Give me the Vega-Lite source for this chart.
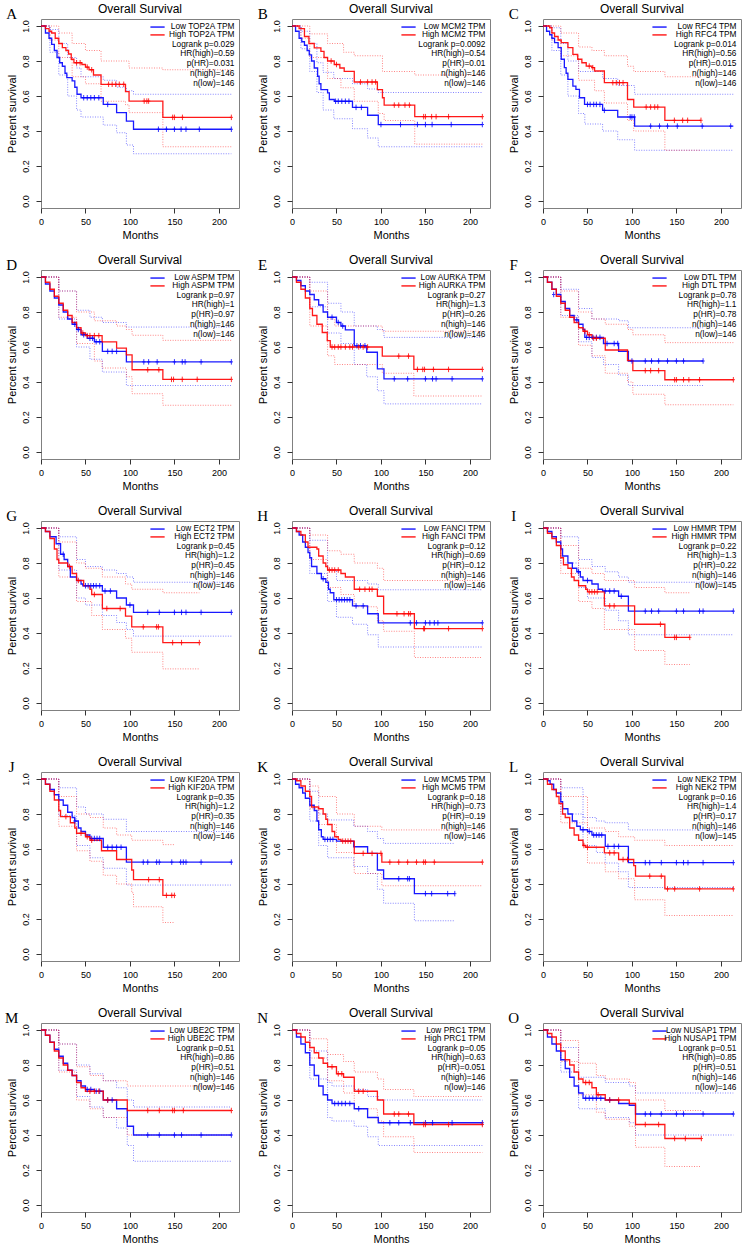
{
"$schema":"https://vega.github.io/schema/vega-lite/v6.json",
"padding":{"left":4,"top":2,"right":0,"bottom":0},
"data":{"values":[
{"p":"A","g":"TL","lab":"Low TOP2A TPM"},{"p":"A","g":"TH","lab":"High TOP2A TPM"},{"p":"A","g":"S","lab":["Logrank p=0.029","HR(high)=0.59","p(HR)=0.031","n(high)=146","n(low)=146"]},
{"p":"B","g":"TL","lab":"Low MCM2 TPM"},{"p":"B","g":"TH","lab":"High MCM2 TPM"},{"p":"B","g":"S","lab":["Logrank p=0.0092","HR(high)=0.54","p(HR)=0.01","n(high)=146","n(low)=146"]},
{"p":"C","g":"TL","lab":"Low RFC4 TPM"},{"p":"C","g":"TH","lab":"High RFC4 TPM"},{"p":"C","g":"S","lab":["Logrank p=0.014","HR(high)=0.56","p(HR)=0.015","n(high)=146","n(low)=146"]},
{"p":"D","g":"TL","lab":"Low ASPM TPM"},{"p":"D","g":"TH","lab":"High ASPM TPM"},{"p":"D","g":"S","lab":["Logrank p=0.97","HR(high)=1","p(HR)=0.97","n(high)=146","n(low)=146"]},
{"p":"E","g":"TL","lab":"Low AURKA TPM"},{"p":"E","g":"TH","lab":"High AURKA TPM"},{"p":"E","g":"S","lab":["Logrank p=0.27","HR(high)=1.3","p(HR)=0.26","n(high)=146","n(low)=146"]},
{"p":"F","g":"TL","lab":"Low DTL TPM"},{"p":"F","g":"TH","lab":"High DTL TPM"},{"p":"F","g":"S","lab":["Logrank p=0.78","HR(high)=1.1","p(HR)=0.78","n(high)=146","n(low)=146"]},
{"p":"G","g":"TL","lab":"Low ECT2 TPM"},{"p":"G","g":"TH","lab":"High ECT2 TPM"},{"p":"G","g":"S","lab":["Logrank p=0.45","HR(high)=1.2","p(HR)=0.45","n(high)=146","n(low)=146"]},
{"p":"H","g":"TL","lab":"Low FANCI TPM"},{"p":"H","g":"TH","lab":"High FANCI TPM"},{"p":"H","g":"S","lab":["Logrank p=0.12","HR(high)=0.69","p(HR)=0.12","n(high)=146","n(low)=146"]},
{"p":"I","g":"TL","lab":"Low HMMR TPM"},{"p":"I","g":"TH","lab":"High HMMR TPM"},{"p":"I","g":"S","lab":["Logrank p=0.22","HR(high)=1.3","p(HR)=0.22","n(high)=146","n(low)=145"]},
{"p":"J","g":"TL","lab":"Low KIF20A TPM"},{"p":"J","g":"TH","lab":"High KIF20A TPM"},{"p":"J","g":"S","lab":["Logrank p=0.35","HR(high)=1.2","p(HR)=0.35","n(high)=146","n(low)=146"]},
{"p":"K","g":"TL","lab":"Low MCM5 TPM"},{"p":"K","g":"TH","lab":"High MCM5 TPM"},{"p":"K","g":"S","lab":["Logrank p=0.18","HR(high)=0.73","p(HR)=0.19","n(high)=146","n(low)=146"]},
{"p":"L","g":"TL","lab":"Low NEK2 TPM"},{"p":"L","g":"TH","lab":"High NEK2 TPM"},{"p":"L","g":"S","lab":["Logrank p=0.16","HR(high)=1.4","p(HR)=0.17","n(high)=146","n(low)=145"]},
{"p":"M","g":"TL","lab":"Low UBE2C TPM"},{"p":"M","g":"TH","lab":"High UBE2C TPM"},{"p":"M","g":"S","lab":["Logrank p=0.51","HR(high)=0.86","p(HR)=0.51","n(high)=146","n(low)=146"]},
{"p":"N","g":"TL","lab":"Low PRC1 TPM"},{"p":"N","g":"TH","lab":"High PRC1 TPM"},{"p":"N","g":"S","lab":["Logrank p=0.05","HR(high)=0.63","p(HR)=0.051","n(high)=146","n(low)=146"]},
{"p":"O","g":"TL","lab":"Low NUSAP1 TPM"},{"p":"O","g":"TH","lab":"High NUSAP1 TPM"},{"p":"O","g":"S","lab":["Logrank p=0.51","HR(high)=0.85","p(HR)=0.51","n(high)=146","n(low)=146"]},

{"p":"A","g":"L","t":0,"s":1},{"p":"A","g":"L","t":5,"s":0.96},{"p":"A","g":"L","t":9,"s":0.93},{"p":"A","g":"L","t":12,"s":0.895},{"p":"A","g":"L","t":15,"s":0.86},{"p":"A","g":"L","t":18,"s":0.82},{"p":"A","g":"L","t":21,"s":0.79},{"p":"A","g":"L","t":24,"s":0.77},{"p":"A","g":"L","t":27,"s":0.73},{"p":"A","g":"L","t":29,"s":0.705},{"p":"A","g":"L","t":35,"s":0.686},{"p":"A","g":"L","t":38,"s":0.65},{"p":"A","g":"L","t":40.5,"s":0.61},{"p":"A","g":"L","t":45,"s":0.59},{"p":"A","g":"L","t":70,"s":0.552},{"p":"A","g":"L","t":85,"s":0.505},{"p":"A","g":"L","t":96,"s":0.457},{"p":"A","g":"L","t":104,"s":0.41},{"p":"A","g":"L","t":214,"s":0.41},
{"p":"A","g":"H","t":0,"s":1},{"p":"A","g":"H","t":5,"s":0.985},{"p":"A","g":"H","t":9,"s":0.97},{"p":"A","g":"H","t":12,"s":0.96},{"p":"A","g":"H","t":16,"s":0.93},{"p":"A","g":"H","t":20,"s":0.9},{"p":"A","g":"H","t":24,"s":0.876},{"p":"A","g":"H","t":28,"s":0.86},{"p":"A","g":"H","t":31,"s":0.84},{"p":"A","g":"H","t":34,"s":0.81},{"p":"A","g":"H","t":37,"s":0.79},{"p":"A","g":"H","t":46,"s":0.78},{"p":"A","g":"H","t":50,"s":0.765},{"p":"A","g":"H","t":54,"s":0.75},{"p":"A","g":"H","t":59,"s":0.72},{"p":"A","g":"H","t":67.5,"s":0.667},{"p":"A","g":"H","t":95,"s":0.625},{"p":"A","g":"H","t":99,"s":0.571},{"p":"A","g":"H","t":137,"s":0.478},{"p":"A","g":"H","t":214,"s":0.478},
{"p":"A","g":"Lu","t":0,"s":1},{"p":"A","g":"Lu","t":10,"s":0.98},{"p":"A","g":"Lu","t":20,"s":0.9},{"p":"A","g":"Lu","t":30,"s":0.82},{"p":"A","g":"Lu","t":40,"s":0.76},{"p":"A","g":"Lu","t":45,"s":0.71},{"p":"A","g":"Lu","t":70,"s":0.69},{"p":"A","g":"Lu","t":85,"s":0.65},{"p":"A","g":"Lu","t":96,"s":0.63},{"p":"A","g":"Lu","t":104,"s":0.61},{"p":"A","g":"Lu","t":214,"s":0.61},
{"p":"A","g":"Ll","t":0,"s":1},{"p":"A","g":"Ll","t":10,"s":0.85},{"p":"A","g":"Ll","t":20,"s":0.72},{"p":"A","g":"Ll","t":30,"s":0.6},{"p":"A","g":"Ll","t":40,"s":0.52},{"p":"A","g":"Ll","t":45,"s":0.48},{"p":"A","g":"Ll","t":70,"s":0.434},{"p":"A","g":"Ll","t":85,"s":0.39},{"p":"A","g":"Ll","t":96,"s":0.32},{"p":"A","g":"Ll","t":104,"s":0.27},{"p":"A","g":"Ll","t":214,"s":0.27},
{"p":"A","g":"Hu","t":0,"s":1},{"p":"A","g":"Hu","t":20,"s":0.96},{"p":"A","g":"Hu","t":35,"s":0.9},{"p":"A","g":"Hu","t":50,"s":0.86},{"p":"A","g":"Hu","t":67.5,"s":0.8},{"p":"A","g":"Hu","t":99,"s":0.76},{"p":"A","g":"Hu","t":137,"s":0.75},{"p":"A","g":"Hu","t":214,"s":0.75},
{"p":"A","g":"Hl","t":0,"s":1},{"p":"A","g":"Hl","t":10,"s":0.92},{"p":"A","g":"Hl","t":20,"s":0.82},{"p":"A","g":"Hl","t":35,"s":0.71},{"p":"A","g":"Hl","t":50,"s":0.67},{"p":"A","g":"Hl","t":67.5,"s":0.57},{"p":"A","g":"Hl","t":95,"s":0.55},{"p":"A","g":"Hl","t":99,"s":0.505},{"p":"A","g":"Hl","t":137,"s":0.31},{"p":"A","g":"Hl","t":214,"s":0.31},
{"p":"A","g":"Lc","t":48,"s":0.59},{"p":"A","g":"Lc","t":52,"s":0.59},{"p":"A","g":"Lc","t":56,"s":0.59},{"p":"A","g":"Lc","t":60,"s":0.59},{"p":"A","g":"Lc","t":65,"s":0.59},{"p":"A","g":"Lc","t":75,"s":0.552},{"p":"A","g":"Lc","t":132,"s":0.41},{"p":"A","g":"Lc","t":141,"s":0.41},{"p":"A","g":"Lc","t":150,"s":0.41},{"p":"A","g":"Lc","t":157.5,"s":0.41},{"p":"A","g":"Lc","t":163,"s":0.41},{"p":"A","g":"Lc","t":178,"s":0.41},{"p":"A","g":"Lc","t":214,"s":0.41},
{"p":"A","g":"Hc","t":40,"s":0.79},{"p":"A","g":"Hc","t":44,"s":0.79},{"p":"A","g":"Hc","t":52,"s":0.765},{"p":"A","g":"Hc","t":57,"s":0.75},{"p":"A","g":"Hc","t":76,"s":0.667},{"p":"A","g":"Hc","t":80,"s":0.667},{"p":"A","g":"Hc","t":84,"s":0.667},{"p":"A","g":"Hc","t":88,"s":0.667},{"p":"A","g":"Hc","t":93,"s":0.667},{"p":"A","g":"Hc","t":116,"s":0.571},{"p":"A","g":"Hc","t":119,"s":0.571},{"p":"A","g":"Hc","t":121,"s":0.571},{"p":"A","g":"Hc","t":148,"s":0.478},{"p":"A","g":"Hc","t":150,"s":0.478},{"p":"A","g":"Hc","t":159,"s":0.478},{"p":"A","g":"Hc","t":214,"s":0.478},

{"p":"B","g":"L","t":0,"s":1},{"p":"B","g":"L","t":4,"s":0.97},{"p":"B","g":"L","t":8,"s":0.93},{"p":"B","g":"L","t":11,"s":0.91},{"p":"B","g":"L","t":14,"s":0.89},{"p":"B","g":"L","t":17,"s":0.86},{"p":"B","g":"L","t":19.4,"s":0.835},{"p":"B","g":"L","t":22,"s":0.8},{"p":"B","g":"L","t":25,"s":0.76},{"p":"B","g":"L","t":28.8,"s":0.713},{"p":"B","g":"L","t":30.5,"s":0.67},{"p":"B","g":"L","t":32.5,"s":0.637},{"p":"B","g":"L","t":40,"s":0.618},{"p":"B","g":"L","t":42,"s":0.58},{"p":"B","g":"L","t":47.5,"s":0.57},{"p":"B","g":"L","t":68,"s":0.535},{"p":"B","g":"L","t":85,"s":0.49},{"p":"B","g":"L","t":97,"s":0.437},{"p":"B","g":"L","t":214,"s":0.437},
{"p":"B","g":"H","t":0,"s":1},{"p":"B","g":"H","t":8,"s":0.985},{"p":"B","g":"H","t":14,"s":0.94},{"p":"B","g":"H","t":19,"s":0.9},{"p":"B","g":"H","t":25,"s":0.875},{"p":"B","g":"H","t":32.5,"s":0.855},{"p":"B","g":"H","t":36,"s":0.82},{"p":"B","g":"H","t":40,"s":0.8},{"p":"B","g":"H","t":47.5,"s":0.78},{"p":"B","g":"H","t":53.8,"s":0.76},{"p":"B","g":"H","t":58.7,"s":0.741},{"p":"B","g":"H","t":70,"s":0.68},{"p":"B","g":"H","t":96,"s":0.637},{"p":"B","g":"H","t":101.7,"s":0.59},{"p":"B","g":"H","t":103.6,"s":0.548},{"p":"B","g":"H","t":138,"s":0.482},{"p":"B","g":"H","t":214,"s":0.482},
{"p":"B","g":"Lu","t":0,"s":1},{"p":"B","g":"Lu","t":10,"s":0.97},{"p":"B","g":"Lu","t":20,"s":0.9},{"p":"B","g":"Lu","t":28,"s":0.79},{"p":"B","g":"Lu","t":35,"s":0.735},{"p":"B","g":"Lu","t":47,"s":0.7},{"p":"B","g":"Lu","t":68,"s":0.67},{"p":"B","g":"Lu","t":85,"s":0.64},{"p":"B","g":"Lu","t":97,"s":0.62},{"p":"B","g":"Lu","t":214,"s":0.62},
{"p":"B","g":"Ll","t":0,"s":1},{"p":"B","g":"Ll","t":10,"s":0.87},{"p":"B","g":"Ll","t":20,"s":0.74},{"p":"B","g":"Ll","t":28,"s":0.62},{"p":"B","g":"Ll","t":35,"s":0.52},{"p":"B","g":"Ll","t":47,"s":0.47},{"p":"B","g":"Ll","t":68,"s":0.413},{"p":"B","g":"Ll","t":85,"s":0.36},{"p":"B","g":"Ll","t":97,"s":0.31},{"p":"B","g":"Ll","t":214,"s":0.31},
{"p":"B","g":"Hu","t":0,"s":1},{"p":"B","g":"Hu","t":20,"s":0.955},{"p":"B","g":"Hu","t":40,"s":0.9},{"p":"B","g":"Hu","t":58,"s":0.85},{"p":"B","g":"Hu","t":70,"s":0.83},{"p":"B","g":"Hu","t":101.7,"s":0.74},{"p":"B","g":"Hu","t":138,"s":0.72},{"p":"B","g":"Hu","t":214,"s":0.72},
{"p":"B","g":"Hl","t":0,"s":1},{"p":"B","g":"Hl","t":10,"s":0.93},{"p":"B","g":"Hl","t":20,"s":0.82},{"p":"B","g":"Hl","t":40,"s":0.7},{"p":"B","g":"Hl","t":55,"s":0.647},{"p":"B","g":"Hl","t":70,"s":0.57},{"p":"B","g":"Hl","t":97,"s":0.5},{"p":"B","g":"Hl","t":103.6,"s":0.46},{"p":"B","g":"Hl","t":138,"s":0.325},{"p":"B","g":"Hl","t":214,"s":0.325},
{"p":"B","g":"Lc","t":49,"s":0.57},{"p":"B","g":"Lc","t":52,"s":0.57},{"p":"B","g":"Lc","t":56,"s":0.57},{"p":"B","g":"Lc","t":60,"s":0.57},{"p":"B","g":"Lc","t":64,"s":0.57},{"p":"B","g":"Lc","t":72,"s":0.535},{"p":"B","g":"Lc","t":78,"s":0.535},{"p":"B","g":"Lc","t":100,"s":0.437},{"p":"B","g":"Lc","t":122,"s":0.437},{"p":"B","g":"Lc","t":141,"s":0.437},{"p":"B","g":"Lc","t":150,"s":0.437},{"p":"B","g":"Lc","t":157.5,"s":0.437},{"p":"B","g":"Lc","t":179,"s":0.437},{"p":"B","g":"Lc","t":214,"s":0.437},
{"p":"B","g":"Hc","t":44,"s":0.8},{"p":"B","g":"Hc","t":50,"s":0.78},{"p":"B","g":"Hc","t":77,"s":0.68},{"p":"B","g":"Hc","t":85,"s":0.68},{"p":"B","g":"Hc","t":90,"s":0.68},{"p":"B","g":"Hc","t":94,"s":0.68},{"p":"B","g":"Hc","t":115,"s":0.548},{"p":"B","g":"Hc","t":120,"s":0.548},{"p":"B","g":"Hc","t":127,"s":0.548},{"p":"B","g":"Hc","t":132,"s":0.548},{"p":"B","g":"Hc","t":148,"s":0.482},{"p":"B","g":"Hc","t":150,"s":0.482},{"p":"B","g":"Hc","t":157,"s":0.482},{"p":"B","g":"Hc","t":162,"s":0.482},{"p":"B","g":"Hc","t":176,"s":0.482},{"p":"B","g":"Hc","t":214,"s":0.482},

{"p":"C","g":"L","t":0,"s":1},{"p":"C","g":"L","t":4,"s":0.97},{"p":"C","g":"L","t":7.5,"s":0.95},{"p":"C","g":"L","t":10,"s":0.93},{"p":"C","g":"L","t":13,"s":0.905},{"p":"C","g":"L","t":17,"s":0.876},{"p":"C","g":"L","t":20.5,"s":0.81},{"p":"C","g":"L","t":24,"s":0.762},{"p":"C","g":"L","t":26,"s":0.73},{"p":"C","g":"L","t":28,"s":0.695},{"p":"C","g":"L","t":33.6,"s":0.657},{"p":"C","g":"L","t":37,"s":0.638},{"p":"C","g":"L","t":41,"s":0.59},{"p":"C","g":"L","t":46.7,"s":0.552},{"p":"C","g":"L","t":67,"s":0.518},{"p":"C","g":"L","t":84,"s":0.48},{"p":"C","g":"L","t":103,"s":0.428},{"p":"C","g":"L","t":214,"s":0.428},
{"p":"C","g":"H","t":0,"s":1},{"p":"C","g":"H","t":7.5,"s":0.99},{"p":"C","g":"H","t":10,"s":0.96},{"p":"C","g":"H","t":13,"s":0.94},{"p":"C","g":"H","t":17,"s":0.92},{"p":"C","g":"H","t":20.5,"s":0.905},{"p":"C","g":"H","t":28,"s":0.876},{"p":"C","g":"H","t":33.6,"s":0.838},{"p":"C","g":"H","t":39,"s":0.81},{"p":"C","g":"H","t":43.7,"s":0.79},{"p":"C","g":"H","t":48.6,"s":0.771},{"p":"C","g":"H","t":55,"s":0.762},{"p":"C","g":"H","t":58,"s":0.743},{"p":"C","g":"H","t":69,"s":0.676},{"p":"C","g":"H","t":95,"s":0.58},{"p":"C","g":"H","t":102,"s":0.537},{"p":"C","g":"H","t":137,"s":0.461},{"p":"C","g":"H","t":177.6,"s":0.461},
{"p":"C","g":"Lu","t":0,"s":1},{"p":"C","g":"Lu","t":10,"s":0.99},{"p":"C","g":"Lu","t":20,"s":0.9},{"p":"C","g":"Lu","t":28,"s":0.8},{"p":"C","g":"Lu","t":40,"s":0.74},{"p":"C","g":"Lu","t":67,"s":0.7},{"p":"C","g":"Lu","t":84,"s":0.66},{"p":"C","g":"Lu","t":103,"s":0.61},{"p":"C","g":"Lu","t":214,"s":0.61},
{"p":"C","g":"Ll","t":0,"s":1},{"p":"C","g":"Ll","t":10,"s":0.86},{"p":"C","g":"Ll","t":20,"s":0.72},{"p":"C","g":"Ll","t":28,"s":0.6},{"p":"C","g":"Ll","t":40,"s":0.5},{"p":"C","g":"Ll","t":47,"s":0.44},{"p":"C","g":"Ll","t":67,"s":0.4},{"p":"C","g":"Ll","t":84,"s":0.35},{"p":"C","g":"Ll","t":103,"s":0.29},{"p":"C","g":"Ll","t":214,"s":0.29},
{"p":"C","g":"Hu","t":0,"s":1},{"p":"C","g":"Hu","t":20,"s":0.96},{"p":"C","g":"Hu","t":40,"s":0.88},{"p":"C","g":"Hu","t":55,"s":0.86},{"p":"C","g":"Hu","t":69,"s":0.83},{"p":"C","g":"Hu","t":95,"s":0.77},{"p":"C","g":"Hu","t":102,"s":0.74},{"p":"C","g":"Hu","t":137,"s":0.71},{"p":"C","g":"Hu","t":177.6,"s":0.71},
{"p":"C","g":"Hl","t":0,"s":1},{"p":"C","g":"Hl","t":10,"s":0.92},{"p":"C","g":"Hl","t":20,"s":0.83},{"p":"C","g":"Hl","t":40,"s":0.69},{"p":"C","g":"Hl","t":58,"s":0.63},{"p":"C","g":"Hl","t":69,"s":0.56},{"p":"C","g":"Hl","t":95,"s":0.46},{"p":"C","g":"Hl","t":102,"s":0.4},{"p":"C","g":"Hl","t":137,"s":0.29},{"p":"C","g":"Hl","t":177.6,"s":0.29},
{"p":"C","g":"Lc","t":50,"s":0.552},{"p":"C","g":"Lc","t":53,"s":0.552},{"p":"C","g":"Lc","t":57,"s":0.552},{"p":"C","g":"Lc","t":60,"s":0.552},{"p":"C","g":"Lc","t":64,"s":0.552},{"p":"C","g":"Lc","t":69,"s":0.518},{"p":"C","g":"Lc","t":98,"s":0.48},{"p":"C","g":"Lc","t":100,"s":0.48},{"p":"C","g":"Lc","t":102.6,"s":0.48},{"p":"C","g":"Lc","t":121,"s":0.428},{"p":"C","g":"Lc","t":131,"s":0.428},{"p":"C","g":"Lc","t":140,"s":0.428},{"p":"C","g":"Lc","t":151,"s":0.428},{"p":"C","g":"Lc","t":179,"s":0.428},{"p":"C","g":"Lc","t":211,"s":0.428},
{"p":"C","g":"Hc","t":52,"s":0.771},{"p":"C","g":"Hc","t":56,"s":0.762},{"p":"C","g":"Hc","t":78.5,"s":0.676},{"p":"C","g":"Hc","t":82.4,"s":0.676},{"p":"C","g":"Hc","t":86,"s":0.676},{"p":"C","g":"Hc","t":90,"s":0.676},{"p":"C","g":"Hc","t":116,"s":0.537},{"p":"C","g":"Hc","t":121,"s":0.537},{"p":"C","g":"Hc","t":125.6,"s":0.537},{"p":"C","g":"Hc","t":129,"s":0.537},{"p":"C","g":"Hc","t":147.7,"s":0.461},{"p":"C","g":"Hc","t":157,"s":0.461},{"p":"C","g":"Hc","t":162.6,"s":0.461},{"p":"C","g":"Hc","t":177.6,"s":0.461},

{"p":"D","g":"L","t":0,"s":1},{"p":"D","g":"L","t":5,"s":0.96},{"p":"D","g":"L","t":10,"s":0.92},{"p":"D","g":"L","t":15,"s":0.88},{"p":"D","g":"L","t":20,"s":0.84},{"p":"D","g":"L","t":25,"s":0.8},{"p":"D","g":"L","t":30,"s":0.76},{"p":"D","g":"L","t":35,"s":0.73},{"p":"D","g":"L","t":40,"s":0.7},{"p":"D","g":"L","t":45,"s":0.67},{"p":"D","g":"L","t":52,"s":0.65},{"p":"D","g":"L","t":60,"s":0.63},{"p":"D","g":"L","t":69,"s":0.575},{"p":"D","g":"L","t":96,"s":0.515},{"p":"D","g":"L","t":214,"s":0.515},
{"p":"D","g":"H","t":0,"s":1},{"p":"D","g":"H","t":5,"s":0.97},{"p":"D","g":"H","t":10,"s":0.93},{"p":"D","g":"H","t":15,"s":0.89},{"p":"D","g":"H","t":20,"s":0.85},{"p":"D","g":"H","t":25,"s":0.81},{"p":"D","g":"H","t":30,"s":0.78},{"p":"D","g":"H","t":35,"s":0.74},{"p":"D","g":"H","t":40,"s":0.71},{"p":"D","g":"H","t":45,"s":0.68},{"p":"D","g":"H","t":50,"s":0.665},{"p":"D","g":"H","t":68.7,"s":0.629},{"p":"D","g":"H","t":85,"s":0.594},{"p":"D","g":"H","t":96,"s":0.555},{"p":"D","g":"H","t":102.4,"s":0.47},{"p":"D","g":"H","t":137,"s":0.415},{"p":"D","g":"H","t":214,"s":0.415},
{"p":"D","g":"Lu","t":0,"s":1},{"p":"D","g":"Lu","t":20,"s":0.92},{"p":"D","g":"Lu","t":40,"s":0.81},{"p":"D","g":"Lu","t":55,"s":0.77},{"p":"D","g":"Lu","t":69,"s":0.74},{"p":"D","g":"Lu","t":96,"s":0.714},{"p":"D","g":"Lu","t":214,"s":0.714},
{"p":"D","g":"Ll","t":0,"s":1},{"p":"D","g":"Ll","t":20,"s":0.76},{"p":"D","g":"Ll","t":40,"s":0.6},{"p":"D","g":"Ll","t":55,"s":0.53},{"p":"D","g":"Ll","t":69,"s":0.457},{"p":"D","g":"Ll","t":96,"s":0.38},{"p":"D","g":"Ll","t":214,"s":0.38},
{"p":"D","g":"Hu","t":0,"s":1},{"p":"D","g":"Hu","t":20,"s":0.92},{"p":"D","g":"Hu","t":40,"s":0.8},{"p":"D","g":"Hu","t":60,"s":0.75},{"p":"D","g":"Hu","t":85,"s":0.72},{"p":"D","g":"Hu","t":96,"s":0.7},{"p":"D","g":"Hu","t":102.4,"s":0.667},{"p":"D","g":"Hu","t":137,"s":0.638},{"p":"D","g":"Hu","t":214,"s":0.638},
{"p":"D","g":"Hl","t":0,"s":1},{"p":"D","g":"Hl","t":20,"s":0.77},{"p":"D","g":"Hl","t":40,"s":0.62},{"p":"D","g":"Hl","t":60,"s":0.52},{"p":"D","g":"Hl","t":68.7,"s":0.48},{"p":"D","g":"Hl","t":96,"s":0.43},{"p":"D","g":"Hl","t":102.4,"s":0.333},{"p":"D","g":"Hl","t":137,"s":0.267},{"p":"D","g":"Hl","t":214,"s":0.267},
{"p":"D","g":"Lc","t":38,"s":0.73},{"p":"D","g":"Lc","t":42,"s":0.7},{"p":"D","g":"Lc","t":48,"s":0.67},{"p":"D","g":"Lc","t":55,"s":0.65},{"p":"D","g":"Lc","t":58,"s":0.65},{"p":"D","g":"Lc","t":62,"s":0.63},{"p":"D","g":"Lc","t":66,"s":0.63},{"p":"D","g":"Lc","t":75,"s":0.575},{"p":"D","g":"Lc","t":80,"s":0.575},{"p":"D","g":"Lc","t":85,"s":0.575},{"p":"D","g":"Lc","t":115.6,"s":0.515},{"p":"D","g":"Lc","t":121,"s":0.515},{"p":"D","g":"Lc","t":130.6,"s":0.515},{"p":"D","g":"Lc","t":150,"s":0.515},{"p":"D","g":"Lc","t":158.8,"s":0.515},{"p":"D","g":"Lc","t":162,"s":0.515},{"p":"D","g":"Lc","t":180,"s":0.515},{"p":"D","g":"Lc","t":214,"s":0.515},
{"p":"D","g":"Hc","t":47,"s":0.68},{"p":"D","g":"Hc","t":52,"s":0.665},{"p":"D","g":"Hc","t":55,"s":0.665},{"p":"D","g":"Hc","t":60,"s":0.665},{"p":"D","g":"Hc","t":65,"s":0.665},{"p":"D","g":"Hc","t":120,"s":0.47},{"p":"D","g":"Hc","t":132.5,"s":0.47},{"p":"D","g":"Hc","t":146.7,"s":0.415},{"p":"D","g":"Hc","t":149,"s":0.415},{"p":"D","g":"Hc","t":158.8,"s":0.415},{"p":"D","g":"Hc","t":175.6,"s":0.415},{"p":"D","g":"Hc","t":214,"s":0.415},

{"p":"E","g":"L","t":0,"s":1},{"p":"E","g":"L","t":5,"s":0.98},{"p":"E","g":"L","t":10,"s":0.95},{"p":"E","g":"L","t":15,"s":0.92},{"p":"E","g":"L","t":20,"s":0.9},{"p":"E","g":"L","t":25,"s":0.87},{"p":"E","g":"L","t":30,"s":0.84},{"p":"E","g":"L","t":35,"s":0.8},{"p":"E","g":"L","t":40,"s":0.77},{"p":"E","g":"L","t":50,"s":0.74},{"p":"E","g":"L","t":55,"s":0.72},{"p":"E","g":"L","t":60,"s":0.698},{"p":"E","g":"L","t":70,"s":0.607},{"p":"E","g":"L","t":84,"s":0.57},{"p":"E","g":"L","t":96,"s":0.475},{"p":"E","g":"L","t":103.4,"s":0.418},{"p":"E","g":"L","t":214,"s":0.418},
{"p":"E","g":"H","t":0,"s":1},{"p":"E","g":"H","t":5,"s":0.97},{"p":"E","g":"H","t":10,"s":0.93},{"p":"E","g":"H","t":15,"s":0.88},{"p":"E","g":"H","t":20,"s":0.82},{"p":"E","g":"H","t":23,"s":0.78},{"p":"E","g":"H","t":28,"s":0.73},{"p":"E","g":"H","t":34,"s":0.683},{"p":"E","g":"H","t":39.6,"s":0.636},{"p":"E","g":"H","t":43,"s":0.6},{"p":"E","g":"H","t":101.5,"s":0.548},{"p":"E","g":"H","t":137,"s":0.472},{"p":"E","g":"H","t":214,"s":0.472},
{"p":"E","g":"Lu","t":0,"s":1},{"p":"E","g":"Lu","t":20,"s":0.97},{"p":"E","g":"Lu","t":40,"s":0.85},{"p":"E","g":"Lu","t":55,"s":0.8},{"p":"E","g":"Lu","t":70,"s":0.72},{"p":"E","g":"Lu","t":96,"s":0.7},{"p":"E","g":"Lu","t":103.4,"s":0.655},{"p":"E","g":"Lu","t":214,"s":0.655},
{"p":"E","g":"Ll","t":0,"s":1},{"p":"E","g":"Ll","t":20,"s":0.83},{"p":"E","g":"Ll","t":40,"s":0.68},{"p":"E","g":"Ll","t":55,"s":0.62},{"p":"E","g":"Ll","t":70,"s":0.5},{"p":"E","g":"Ll","t":84,"s":0.43},{"p":"E","g":"Ll","t":96,"s":0.35},{"p":"E","g":"Ll","t":103.4,"s":0.275},{"p":"E","g":"Ll","t":214,"s":0.275},
{"p":"E","g":"Hu","t":0,"s":1},{"p":"E","g":"Hu","t":20,"s":0.92},{"p":"E","g":"Hu","t":40,"s":0.76},{"p":"E","g":"Hu","t":48,"s":0.72},{"p":"E","g":"Hu","t":101.5,"s":0.69},{"p":"E","g":"Hu","t":214,"s":0.69},
{"p":"E","g":"Hl","t":0,"s":1},{"p":"E","g":"Hl","t":20,"s":0.72},{"p":"E","g":"Hl","t":40,"s":0.55},{"p":"E","g":"Hl","t":48,"s":0.5},{"p":"E","g":"Hl","t":101.5,"s":0.45},{"p":"E","g":"Hl","t":137,"s":0.32},{"p":"E","g":"Hl","t":214,"s":0.32},
{"p":"E","g":"Lc","t":45,"s":0.77},{"p":"E","g":"Lc","t":52,"s":0.74},{"p":"E","g":"Lc","t":57,"s":0.72},{"p":"E","g":"Lc","t":73,"s":0.607},{"p":"E","g":"Lc","t":77,"s":0.607},{"p":"E","g":"Lc","t":82,"s":0.607},{"p":"E","g":"Lc","t":115,"s":0.418},{"p":"E","g":"Lc","t":130,"s":0.418},{"p":"E","g":"Lc","t":150,"s":0.418},{"p":"E","g":"Lc","t":158,"s":0.418},{"p":"E","g":"Lc","t":162,"s":0.418},{"p":"E","g":"Lc","t":180,"s":0.418},{"p":"E","g":"Lc","t":214,"s":0.418},
{"p":"E","g":"Hc","t":45,"s":0.6},{"p":"E","g":"Hc","t":48,"s":0.6},{"p":"E","g":"Hc","t":52,"s":0.6},{"p":"E","g":"Hc","t":55,"s":0.6},{"p":"E","g":"Hc","t":60,"s":0.6},{"p":"E","g":"Hc","t":65,"s":0.6},{"p":"E","g":"Hc","t":68,"s":0.6},{"p":"E","g":"Hc","t":75,"s":0.6},{"p":"E","g":"Hc","t":80,"s":0.6},{"p":"E","g":"Hc","t":85,"s":0.6},{"p":"E","g":"Hc","t":120,"s":0.548},{"p":"E","g":"Hc","t":131,"s":0.548},{"p":"E","g":"Hc","t":141,"s":0.472},{"p":"E","g":"Hc","t":147,"s":0.472},{"p":"E","g":"Hc","t":149,"s":0.472},{"p":"E","g":"Hc","t":159,"s":0.472},{"p":"E","g":"Hc","t":176,"s":0.472},{"p":"E","g":"Hc","t":214,"s":0.472},

{"p":"F","g":"L","t":0,"s":1},{"p":"F","g":"L","t":5,"s":0.97},{"p":"F","g":"L","t":10,"s":0.93},{"p":"F","g":"L","t":15,"s":0.9},{"p":"F","g":"L","t":20,"s":0.86},{"p":"F","g":"L","t":25,"s":0.82},{"p":"F","g":"L","t":30,"s":0.78},{"p":"F","g":"L","t":35,"s":0.755},{"p":"F","g":"L","t":40,"s":0.73},{"p":"F","g":"L","t":45,"s":0.7},{"p":"F","g":"L","t":47,"s":0.655},{"p":"F","g":"L","t":68,"s":0.62},{"p":"F","g":"L","t":85,"s":0.575},{"p":"F","g":"L","t":96,"s":0.52},{"p":"F","g":"L","t":180,"s":0.52},
{"p":"F","g":"H","t":0,"s":1},{"p":"F","g":"H","t":5,"s":0.97},{"p":"F","g":"H","t":10,"s":0.93},{"p":"F","g":"H","t":15,"s":0.89},{"p":"F","g":"H","t":20,"s":0.85},{"p":"F","g":"H","t":25,"s":0.81},{"p":"F","g":"H","t":30,"s":0.77},{"p":"F","g":"H","t":35,"s":0.74},{"p":"F","g":"H","t":40,"s":0.71},{"p":"F","g":"H","t":45,"s":0.69},{"p":"F","g":"H","t":50,"s":0.67},{"p":"F","g":"H","t":55,"s":0.65},{"p":"F","g":"H","t":70,"s":0.583},{"p":"F","g":"H","t":95,"s":0.523},{"p":"F","g":"H","t":101,"s":0.465},{"p":"F","g":"H","t":137,"s":0.413},{"p":"F","g":"H","t":214,"s":0.413},
{"p":"F","g":"Lu","t":0,"s":1},{"p":"F","g":"Lu","t":20,"s":0.93},{"p":"F","g":"Lu","t":40,"s":0.82},{"p":"F","g":"Lu","t":55,"s":0.76},{"p":"F","g":"Lu","t":85,"s":0.75},{"p":"F","g":"Lu","t":96,"s":0.71},{"p":"F","g":"Lu","t":180,"s":0.71},
{"p":"F","g":"Ll","t":0,"s":1},{"p":"F","g":"Ll","t":20,"s":0.78},{"p":"F","g":"Ll","t":40,"s":0.63},{"p":"F","g":"Ll","t":55,"s":0.54},{"p":"F","g":"Ll","t":68,"s":0.5},{"p":"F","g":"Ll","t":85,"s":0.44},{"p":"F","g":"Ll","t":96,"s":0.38},{"p":"F","g":"Ll","t":180,"s":0.38},
{"p":"F","g":"Hu","t":0,"s":1},{"p":"F","g":"Hu","t":20,"s":0.92},{"p":"F","g":"Hu","t":40,"s":0.8},{"p":"F","g":"Hu","t":55,"s":0.76},{"p":"F","g":"Hu","t":70,"s":0.73},{"p":"F","g":"Hu","t":95,"s":0.7},{"p":"F","g":"Hu","t":101,"s":0.67},{"p":"F","g":"Hu","t":137,"s":0.625},{"p":"F","g":"Hu","t":214,"s":0.625},
{"p":"F","g":"Hl","t":0,"s":1},{"p":"F","g":"Hl","t":20,"s":0.77},{"p":"F","g":"Hl","t":40,"s":0.61},{"p":"F","g":"Hl","t":55,"s":0.55},{"p":"F","g":"Hl","t":70,"s":0.45},{"p":"F","g":"Hl","t":95,"s":0.4},{"p":"F","g":"Hl","t":101,"s":0.33},{"p":"F","g":"Hl","t":137,"s":0.27},{"p":"F","g":"Hl","t":214,"s":0.27},
{"p":"F","g":"Lc","t":12,"s":0.9},{"p":"F","g":"Lc","t":38,"s":0.755},{"p":"F","g":"Lc","t":49,"s":0.655},{"p":"F","g":"Lc","t":52,"s":0.655},{"p":"F","g":"Lc","t":56,"s":0.655},{"p":"F","g":"Lc","t":60,"s":0.655},{"p":"F","g":"Lc","t":64,"s":0.655},{"p":"F","g":"Lc","t":72,"s":0.62},{"p":"F","g":"Lc","t":80,"s":0.62},{"p":"F","g":"Lc","t":84,"s":0.62},{"p":"F","g":"Lc","t":100,"s":0.52},{"p":"F","g":"Lc","t":115,"s":0.52},{"p":"F","g":"Lc","t":122,"s":0.52},{"p":"F","g":"Lc","t":130,"s":0.52},{"p":"F","g":"Lc","t":140,"s":0.52},{"p":"F","g":"Lc","t":150,"s":0.52},{"p":"F","g":"Lc","t":158,"s":0.52},{"p":"F","g":"Lc","t":180,"s":0.52},
{"p":"F","g":"Hc","t":47,"s":0.69},{"p":"F","g":"Hc","t":52,"s":0.67},{"p":"F","g":"Hc","t":57,"s":0.65},{"p":"F","g":"Hc","t":60,"s":0.65},{"p":"F","g":"Hc","t":115,"s":0.465},{"p":"F","g":"Hc","t":121,"s":0.465},{"p":"F","g":"Hc","t":130,"s":0.465},{"p":"F","g":"Hc","t":148,"s":0.413},{"p":"F","g":"Hc","t":150,"s":0.413},{"p":"F","g":"Hc","t":158,"s":0.413},{"p":"F","g":"Hc","t":164,"s":0.413},{"p":"F","g":"Hc","t":176,"s":0.413},{"p":"F","g":"Hc","t":214,"s":0.413},

{"p":"G","g":"L","t":0,"s":1},{"p":"G","g":"L","t":5,"s":0.98},{"p":"G","g":"L","t":10,"s":0.95},{"p":"G","g":"L","t":17,"s":0.91},{"p":"G","g":"L","t":22,"s":0.85},{"p":"G","g":"L","t":26,"s":0.82},{"p":"G","g":"L","t":30,"s":0.78},{"p":"G","g":"L","t":33,"s":0.72},{"p":"G","g":"L","t":40,"s":0.7},{"p":"G","g":"L","t":45,"s":0.68},{"p":"G","g":"L","t":47,"s":0.67},{"p":"G","g":"L","t":69,"s":0.64},{"p":"G","g":"L","t":85,"s":0.6},{"p":"G","g":"L","t":96,"s":0.56},{"p":"G","g":"L","t":104,"s":0.518},{"p":"G","g":"L","t":214,"s":0.518},
{"p":"G","g":"H","t":0,"s":1},{"p":"G","g":"H","t":5,"s":0.98},{"p":"G","g":"H","t":10,"s":0.94},{"p":"G","g":"H","t":15,"s":0.88},{"p":"G","g":"H","t":18,"s":0.82},{"p":"G","g":"H","t":20,"s":0.8},{"p":"G","g":"H","t":30,"s":0.78},{"p":"G","g":"H","t":35,"s":0.74},{"p":"G","g":"H","t":40,"s":0.7},{"p":"G","g":"H","t":48,"s":0.67},{"p":"G","g":"H","t":55,"s":0.65},{"p":"G","g":"H","t":57,"s":0.62},{"p":"G","g":"H","t":69,"s":0.54},{"p":"G","g":"H","t":95,"s":0.497},{"p":"G","g":"H","t":102,"s":0.435},{"p":"G","g":"H","t":137,"s":0.345},{"p":"G","g":"H","t":178,"s":0.345},
{"p":"G","g":"Lu","t":0,"s":1},{"p":"G","g":"Lu","t":20,"s":0.95},{"p":"G","g":"Lu","t":40,"s":0.82},{"p":"G","g":"Lu","t":50,"s":0.78},{"p":"G","g":"Lu","t":69,"s":0.76},{"p":"G","g":"Lu","t":85,"s":0.74},{"p":"G","g":"Lu","t":96,"s":0.72},{"p":"G","g":"Lu","t":104,"s":0.69},{"p":"G","g":"Lu","t":214,"s":0.69},
{"p":"G","g":"Ll","t":0,"s":1},{"p":"G","g":"Ll","t":20,"s":0.76},{"p":"G","g":"Ll","t":40,"s":0.6},{"p":"G","g":"Ll","t":50,"s":0.56},{"p":"G","g":"Ll","t":69,"s":0.5},{"p":"G","g":"Ll","t":85,"s":0.46},{"p":"G","g":"Ll","t":96,"s":0.42},{"p":"G","g":"Ll","t":104,"s":0.382},{"p":"G","g":"Ll","t":214,"s":0.382},
{"p":"G","g":"Hu","t":0,"s":1},{"p":"G","g":"Hu","t":20,"s":0.92},{"p":"G","g":"Hu","t":40,"s":0.8},{"p":"G","g":"Hu","t":50,"s":0.77},{"p":"G","g":"Hu","t":69,"s":0.72},{"p":"G","g":"Hu","t":95,"s":0.68},{"p":"G","g":"Hu","t":102,"s":0.65},{"p":"G","g":"Hu","t":137,"s":0.63},{"p":"G","g":"Hu","t":178,"s":0.63},
{"p":"G","g":"Hl","t":0,"s":1},{"p":"G","g":"Hl","t":20,"s":0.72},{"p":"G","g":"Hl","t":40,"s":0.58},{"p":"G","g":"Hl","t":57,"s":0.5},{"p":"G","g":"Hl","t":69,"s":0.42},{"p":"G","g":"Hl","t":95,"s":0.37},{"p":"G","g":"Hl","t":102,"s":0.29},{"p":"G","g":"Hl","t":137,"s":0.195},{"p":"G","g":"Hl","t":178,"s":0.195},
{"p":"G","g":"Lc","t":25,"s":0.85},{"p":"G","g":"Lc","t":50,"s":0.67},{"p":"G","g":"Lc","t":53,"s":0.67},{"p":"G","g":"Lc","t":56,"s":0.67},{"p":"G","g":"Lc","t":59,"s":0.67},{"p":"G","g":"Lc","t":62,"s":0.67},{"p":"G","g":"Lc","t":66,"s":0.67},{"p":"G","g":"Lc","t":72,"s":0.64},{"p":"G","g":"Lc","t":78,"s":0.64},{"p":"G","g":"Lc","t":100,"s":0.56},{"p":"G","g":"Lc","t":120,"s":0.518},{"p":"G","g":"Lc","t":133,"s":0.518},{"p":"G","g":"Lc","t":150,"s":0.518},{"p":"G","g":"Lc","t":158,"s":0.518},{"p":"G","g":"Lc","t":163,"s":0.518},{"p":"G","g":"Lc","t":180,"s":0.518},{"p":"G","g":"Lc","t":214,"s":0.518},
{"p":"G","g":"Hc","t":32,"s":0.78},{"p":"G","g":"Hc","t":42,"s":0.7},{"p":"G","g":"Hc","t":60,"s":0.62},{"p":"G","g":"Hc","t":74,"s":0.54},{"p":"G","g":"Hc","t":89,"s":0.54},{"p":"G","g":"Hc","t":115,"s":0.435},{"p":"G","g":"Hc","t":130,"s":0.435},{"p":"G","g":"Hc","t":132,"s":0.435},{"p":"G","g":"Hc","t":148,"s":0.345},{"p":"G","g":"Hc","t":158,"s":0.345},{"p":"G","g":"Hc","t":178,"s":0.345},

{"p":"H","g":"L","t":0,"s":1},{"p":"H","g":"L","t":5,"s":0.98},{"p":"H","g":"L","t":8,"s":0.96},{"p":"H","g":"L","t":12,"s":0.92},{"p":"H","g":"L","t":15,"s":0.89},{"p":"H","g":"L","t":18,"s":0.86},{"p":"H","g":"L","t":20,"s":0.83},{"p":"H","g":"L","t":22,"s":0.78},{"p":"H","g":"L","t":28,"s":0.74},{"p":"H","g":"L","t":33,"s":0.71},{"p":"H","g":"L","t":38,"s":0.69},{"p":"H","g":"L","t":41,"s":0.65},{"p":"H","g":"L","t":43,"s":0.63},{"p":"H","g":"L","t":47,"s":0.59},{"p":"H","g":"L","t":68,"s":0.555},{"p":"H","g":"L","t":85,"s":0.51},{"p":"H","g":"L","t":97,"s":0.458},{"p":"H","g":"L","t":214,"s":0.458},
{"p":"H","g":"H","t":0,"s":1},{"p":"H","g":"H","t":5,"s":0.98},{"p":"H","g":"H","t":10,"s":0.96},{"p":"H","g":"H","t":15,"s":0.92},{"p":"H","g":"H","t":18,"s":0.89},{"p":"H","g":"H","t":28,"s":0.88},{"p":"H","g":"H","t":30,"s":0.84},{"p":"H","g":"H","t":35,"s":0.8},{"p":"H","g":"H","t":38,"s":0.78},{"p":"H","g":"H","t":40,"s":0.76},{"p":"H","g":"H","t":55,"s":0.74},{"p":"H","g":"H","t":60,"s":0.72},{"p":"H","g":"H","t":70,"s":0.65},{"p":"H","g":"H","t":96,"s":0.61},{"p":"H","g":"H","t":103,"s":0.51},{"p":"H","g":"H","t":137.6,"s":0.425},{"p":"H","g":"H","t":214,"s":0.425},
{"p":"H","g":"Lu","t":0,"s":1},{"p":"H","g":"Lu","t":20,"s":0.93},{"p":"H","g":"Lu","t":40,"s":0.76},{"p":"H","g":"Lu","t":50,"s":0.7},{"p":"H","g":"Lu","t":85,"s":0.68},{"p":"H","g":"Lu","t":97,"s":0.647},{"p":"H","g":"Lu","t":214,"s":0.647},
{"p":"H","g":"Ll","t":0,"s":1},{"p":"H","g":"Ll","t":20,"s":0.74},{"p":"H","g":"Ll","t":40,"s":0.58},{"p":"H","g":"Ll","t":50,"s":0.49},{"p":"H","g":"Ll","t":68,"s":0.45},{"p":"H","g":"Ll","t":85,"s":0.39},{"p":"H","g":"Ll","t":97,"s":0.32},{"p":"H","g":"Ll","t":214,"s":0.32},
{"p":"H","g":"Hu","t":0,"s":1},{"p":"H","g":"Hu","t":20,"s":0.96},{"p":"H","g":"Hu","t":40,"s":0.87},{"p":"H","g":"Hu","t":55,"s":0.85},{"p":"H","g":"Hu","t":70,"s":0.8},{"p":"H","g":"Hu","t":96,"s":0.77},{"p":"H","g":"Hu","t":103,"s":0.7},{"p":"H","g":"Hu","t":214,"s":0.7},
{"p":"H","g":"Hl","t":0,"s":1},{"p":"H","g":"Hl","t":20,"s":0.82},{"p":"H","g":"Hl","t":40,"s":0.66},{"p":"H","g":"Hl","t":55,"s":0.62},{"p":"H","g":"Hl","t":70,"s":0.55},{"p":"H","g":"Hl","t":96,"s":0.47},{"p":"H","g":"Hl","t":103,"s":0.41},{"p":"H","g":"Hl","t":137.6,"s":0.26},{"p":"H","g":"Hl","t":214,"s":0.26},
{"p":"H","g":"Lc","t":35,"s":0.71},{"p":"H","g":"Lc","t":50,"s":0.59},{"p":"H","g":"Lc","t":53,"s":0.59},{"p":"H","g":"Lc","t":56,"s":0.59},{"p":"H","g":"Lc","t":59,"s":0.59},{"p":"H","g":"Lc","t":62,"s":0.59},{"p":"H","g":"Lc","t":65,"s":0.59},{"p":"H","g":"Lc","t":72,"s":0.555},{"p":"H","g":"Lc","t":80,"s":0.555},{"p":"H","g":"Lc","t":133,"s":0.458},{"p":"H","g":"Lc","t":140,"s":0.458},{"p":"H","g":"Lc","t":150,"s":0.458},{"p":"H","g":"Lc","t":155,"s":0.458},{"p":"H","g":"Lc","t":160,"s":0.458},{"p":"H","g":"Lc","t":164,"s":0.458},{"p":"H","g":"Lc","t":214,"s":0.458},
{"p":"H","g":"Hc","t":42,"s":0.76},{"p":"H","g":"Hc","t":45,"s":0.76},{"p":"H","g":"Hc","t":48,"s":0.76},{"p":"H","g":"Hc","t":52,"s":0.76},{"p":"H","g":"Hc","t":76,"s":0.65},{"p":"H","g":"Hc","t":82,"s":0.65},{"p":"H","g":"Hc","t":87,"s":0.65},{"p":"H","g":"Hc","t":90,"s":0.65},{"p":"H","g":"Hc","t":118,"s":0.51},{"p":"H","g":"Hc","t":126,"s":0.51},{"p":"H","g":"Hc","t":131,"s":0.51},{"p":"H","g":"Hc","t":133,"s":0.51},{"p":"H","g":"Hc","t":148,"s":0.425},{"p":"H","g":"Hc","t":149,"s":0.425},{"p":"H","g":"Hc","t":176,"s":0.425},{"p":"H","g":"Hc","t":214,"s":0.425},

{"p":"I","g":"L","t":0,"s":1},{"p":"I","g":"L","t":5,"s":0.98},{"p":"I","g":"L","t":10,"s":0.95},{"p":"I","g":"L","t":15,"s":0.92},{"p":"I","g":"L","t":20,"s":0.88},{"p":"I","g":"L","t":22,"s":0.84},{"p":"I","g":"L","t":28,"s":0.8},{"p":"I","g":"L","t":33,"s":0.77},{"p":"I","g":"L","t":38,"s":0.75},{"p":"I","g":"L","t":42,"s":0.72},{"p":"I","g":"L","t":45,"s":0.7},{"p":"I","g":"L","t":55,"s":0.68},{"p":"I","g":"L","t":62,"s":0.65},{"p":"I","g":"L","t":67,"s":0.64},{"p":"I","g":"L","t":85,"s":0.61},{"p":"I","g":"L","t":96,"s":0.525},{"p":"I","g":"L","t":214,"s":0.525},
{"p":"I","g":"H","t":0,"s":1},{"p":"I","g":"H","t":5,"s":0.97},{"p":"I","g":"H","t":10,"s":0.94},{"p":"I","g":"H","t":15,"s":0.9},{"p":"I","g":"H","t":20,"s":0.83},{"p":"I","g":"H","t":23,"s":0.79},{"p":"I","g":"H","t":28,"s":0.77},{"p":"I","g":"H","t":32,"s":0.72},{"p":"I","g":"H","t":35,"s":0.7},{"p":"I","g":"H","t":40,"s":0.67},{"p":"I","g":"H","t":48,"s":0.65},{"p":"I","g":"H","t":50,"s":0.635},{"p":"I","g":"H","t":69,"s":0.555},{"p":"I","g":"H","t":103,"s":0.45},{"p":"I","g":"H","t":137,"s":0.375},{"p":"I","g":"H","t":165,"s":0.375},
{"p":"I","g":"Lu","t":0,"s":1},{"p":"I","g":"Lu","t":20,"s":0.95},{"p":"I","g":"Lu","t":40,"s":0.82},{"p":"I","g":"Lu","t":55,"s":0.78},{"p":"I","g":"Lu","t":70,"s":0.75},{"p":"I","g":"Lu","t":85,"s":0.72},{"p":"I","g":"Lu","t":96,"s":0.69},{"p":"I","g":"Lu","t":214,"s":0.69},
{"p":"I","g":"Ll","t":0,"s":1},{"p":"I","g":"Ll","t":20,"s":0.8},{"p":"I","g":"Ll","t":40,"s":0.66},{"p":"I","g":"Ll","t":50,"s":0.6},{"p":"I","g":"Ll","t":70,"s":0.53},{"p":"I","g":"Ll","t":85,"s":0.47},{"p":"I","g":"Ll","t":96,"s":0.39},{"p":"I","g":"Ll","t":214,"s":0.39},
{"p":"I","g":"Hu","t":0,"s":1},{"p":"I","g":"Hu","t":20,"s":0.9},{"p":"I","g":"Hu","t":40,"s":0.77},{"p":"I","g":"Hu","t":55,"s":0.74},{"p":"I","g":"Hu","t":69,"s":0.7},{"p":"I","g":"Hu","t":103,"s":0.66},{"p":"I","g":"Hu","t":137,"s":0.63},{"p":"I","g":"Hu","t":165,"s":0.63},
{"p":"I","g":"Hl","t":0,"s":1},{"p":"I","g":"Hl","t":20,"s":0.74},{"p":"I","g":"Hl","t":40,"s":0.58},{"p":"I","g":"Hl","t":55,"s":0.54},{"p":"I","g":"Hl","t":69,"s":0.42},{"p":"I","g":"Hl","t":103,"s":0.3},{"p":"I","g":"Hl","t":137,"s":0.22},{"p":"I","g":"Hl","t":165,"s":0.22},
{"p":"I","g":"Lc","t":40,"s":0.75},{"p":"I","g":"Lc","t":50,"s":0.7},{"p":"I","g":"Lc","t":70,"s":0.64},{"p":"I","g":"Lc","t":75,"s":0.64},{"p":"I","g":"Lc","t":80,"s":0.64},{"p":"I","g":"Lc","t":88,"s":0.61},{"p":"I","g":"Lc","t":115,"s":0.525},{"p":"I","g":"Lc","t":122,"s":0.525},{"p":"I","g":"Lc","t":130,"s":0.525},{"p":"I","g":"Lc","t":150,"s":0.525},{"p":"I","g":"Lc","t":158,"s":0.525},{"p":"I","g":"Lc","t":176,"s":0.525},{"p":"I","g":"Lc","t":180,"s":0.525},{"p":"I","g":"Lc","t":214,"s":0.525},
{"p":"I","g":"Hc","t":52,"s":0.635},{"p":"I","g":"Hc","t":55,"s":0.635},{"p":"I","g":"Hc","t":58,"s":0.635},{"p":"I","g":"Hc","t":61,"s":0.635},{"p":"I","g":"Hc","t":75,"s":0.555},{"p":"I","g":"Hc","t":80,"s":0.555},{"p":"I","g":"Hc","t":132,"s":0.45},{"p":"I","g":"Hc","t":148,"s":0.375},{"p":"I","g":"Hc","t":150,"s":0.375},{"p":"I","g":"Hc","t":165,"s":0.375},

{"p":"J","g":"L","t":0,"s":1},{"p":"J","g":"L","t":5,"s":0.97},{"p":"J","g":"L","t":10,"s":0.94},{"p":"J","g":"L","t":15,"s":0.91},{"p":"J","g":"L","t":20,"s":0.88},{"p":"J","g":"L","t":25,"s":0.85},{"p":"J","g":"L","t":30,"s":0.81},{"p":"J","g":"L","t":35,"s":0.78},{"p":"J","g":"L","t":38,"s":0.76},{"p":"J","g":"L","t":42,"s":0.72},{"p":"J","g":"L","t":45,"s":0.7},{"p":"J","g":"L","t":50,"s":0.68},{"p":"J","g":"L","t":55,"s":0.66},{"p":"J","g":"L","t":70,"s":0.61},{"p":"J","g":"L","t":96,"s":0.525},{"p":"J","g":"L","t":214,"s":0.525},
{"p":"J","g":"H","t":0,"s":1},{"p":"J","g":"H","t":5,"s":0.97},{"p":"J","g":"H","t":10,"s":0.93},{"p":"J","g":"H","t":15,"s":0.88},{"p":"J","g":"H","t":20,"s":0.82},{"p":"J","g":"H","t":22,"s":0.785},{"p":"J","g":"H","t":33,"s":0.75},{"p":"J","g":"H","t":38,"s":0.72},{"p":"J","g":"H","t":40,"s":0.69},{"p":"J","g":"H","t":50,"s":0.67},{"p":"J","g":"H","t":55,"s":0.65},{"p":"J","g":"H","t":68,"s":0.59},{"p":"J","g":"H","t":85,"s":0.54},{"p":"J","g":"H","t":102,"s":0.48},{"p":"J","g":"H","t":104,"s":0.425},{"p":"J","g":"H","t":137,"s":0.335},{"p":"J","g":"H","t":150,"s":0.335},
{"p":"J","g":"Lu","t":0,"s":1},{"p":"J","g":"Lu","t":20,"s":0.95},{"p":"J","g":"Lu","t":40,"s":0.84},{"p":"J","g":"Lu","t":50,"s":0.8},{"p":"J","g":"Lu","t":70,"s":0.77},{"p":"J","g":"Lu","t":96,"s":0.7},{"p":"J","g":"Lu","t":214,"s":0.7},
{"p":"J","g":"Ll","t":0,"s":1},{"p":"J","g":"Ll","t":20,"s":0.79},{"p":"J","g":"Ll","t":40,"s":0.62},{"p":"J","g":"Ll","t":55,"s":0.55},{"p":"J","g":"Ll","t":70,"s":0.49},{"p":"J","g":"Ll","t":96,"s":0.394},{"p":"J","g":"Ll","t":214,"s":0.394},
{"p":"J","g":"Hu","t":0,"s":1},{"p":"J","g":"Hu","t":20,"s":0.9},{"p":"J","g":"Hu","t":40,"s":0.8},{"p":"J","g":"Hu","t":55,"s":0.78},{"p":"J","g":"Hu","t":70,"s":0.72},{"p":"J","g":"Hu","t":85,"s":0.68},{"p":"J","g":"Hu","t":102,"s":0.65},{"p":"J","g":"Hu","t":137,"s":0.625},{"p":"J","g":"Hu","t":150,"s":0.625},
{"p":"J","g":"Hl","t":0,"s":1},{"p":"J","g":"Hl","t":20,"s":0.73},{"p":"J","g":"Hl","t":40,"s":0.59},{"p":"J","g":"Hl","t":55,"s":0.53},{"p":"J","g":"Hl","t":70,"s":0.45},{"p":"J","g":"Hl","t":85,"s":0.4},{"p":"J","g":"Hl","t":102,"s":0.35},{"p":"J","g":"Hl","t":104,"s":0.27},{"p":"J","g":"Hl","t":137,"s":0.18},{"p":"J","g":"Hl","t":150,"s":0.18},
{"p":"J","g":"Lc","t":38,"s":0.76},{"p":"J","g":"Lc","t":57,"s":0.66},{"p":"J","g":"Lc","t":60,"s":0.66},{"p":"J","g":"Lc","t":63,"s":0.66},{"p":"J","g":"Lc","t":66,"s":0.66},{"p":"J","g":"Lc","t":75,"s":0.61},{"p":"J","g":"Lc","t":80,"s":0.61},{"p":"J","g":"Lc","t":85,"s":0.61},{"p":"J","g":"Lc","t":90,"s":0.61},{"p":"J","g":"Lc","t":115,"s":0.525},{"p":"J","g":"Lc","t":120,"s":0.525},{"p":"J","g":"Lc","t":130,"s":0.525},{"p":"J","g":"Lc","t":133,"s":0.525},{"p":"J","g":"Lc","t":147,"s":0.525},{"p":"J","g":"Lc","t":157,"s":0.525},{"p":"J","g":"Lc","t":160,"s":0.525},{"p":"J","g":"Lc","t":163,"s":0.525},{"p":"J","g":"Lc","t":180,"s":0.525},{"p":"J","g":"Lc","t":214,"s":0.525},
{"p":"J","g":"Hc","t":28,"s":0.785},{"p":"J","g":"Hc","t":45,"s":0.69},{"p":"J","g":"Hc","t":52,"s":0.67},{"p":"J","g":"Hc","t":57,"s":0.65},{"p":"J","g":"Hc","t":121,"s":0.425},{"p":"J","g":"Hc","t":133,"s":0.425},{"p":"J","g":"Hc","t":141,"s":0.335},{"p":"J","g":"Hc","t":147,"s":0.335},{"p":"J","g":"Hc","t":150,"s":0.335},

{"p":"K","g":"L","t":0,"s":1},{"p":"K","g":"L","t":4,"s":0.97},{"p":"K","g":"L","t":8,"s":0.95},{"p":"K","g":"L","t":12,"s":0.92},{"p":"K","g":"L","t":15,"s":0.89},{"p":"K","g":"L","t":20,"s":0.85},{"p":"K","g":"L","t":25,"s":0.82},{"p":"K","g":"L","t":28,"s":0.76},{"p":"K","g":"L","t":30,"s":0.71},{"p":"K","g":"L","t":33,"s":0.67},{"p":"K","g":"L","t":35,"s":0.655},{"p":"K","g":"L","t":50,"s":0.645},{"p":"K","g":"L","t":69.4,"s":0.613},{"p":"K","g":"L","t":85,"s":0.575},{"p":"K","g":"L","t":96,"s":0.48},{"p":"K","g":"L","t":103,"s":0.43},{"p":"K","g":"L","t":137.6,"s":0.345},{"p":"K","g":"L","t":183,"s":0.345},
{"p":"K","g":"H","t":0,"s":1},{"p":"K","g":"H","t":5,"s":0.99},{"p":"K","g":"H","t":10,"s":0.96},{"p":"K","g":"H","t":15,"s":0.93},{"p":"K","g":"H","t":20,"s":0.9},{"p":"K","g":"H","t":22,"s":0.84},{"p":"K","g":"H","t":30,"s":0.83},{"p":"K","g":"H","t":35,"s":0.8},{"p":"K","g":"H","t":38,"s":0.77},{"p":"K","g":"H","t":40,"s":0.74},{"p":"K","g":"H","t":45,"s":0.7},{"p":"K","g":"H","t":48,"s":0.67},{"p":"K","g":"H","t":52,"s":0.655},{"p":"K","g":"H","t":55,"s":0.645},{"p":"K","g":"H","t":70,"s":0.575},{"p":"K","g":"H","t":101,"s":0.525},{"p":"K","g":"H","t":214,"s":0.525},
{"p":"K","g":"Lu","t":0,"s":1},{"p":"K","g":"Lu","t":20,"s":0.93},{"p":"K","g":"Lu","t":30,"s":0.8},{"p":"K","g":"Lu","t":40,"s":0.766},{"p":"K","g":"Lu","t":69.4,"s":0.73},{"p":"K","g":"Lu","t":85,"s":0.7},{"p":"K","g":"Lu","t":96,"s":0.66},{"p":"K","g":"Lu","t":103,"s":0.632},{"p":"K","g":"Lu","t":183,"s":0.632},
{"p":"K","g":"Ll","t":0,"s":1},{"p":"K","g":"Ll","t":20,"s":0.76},{"p":"K","g":"Ll","t":30,"s":0.62},{"p":"K","g":"Ll","t":40,"s":0.55},{"p":"K","g":"Ll","t":69.4,"s":0.5},{"p":"K","g":"Ll","t":85,"s":0.46},{"p":"K","g":"Ll","t":96,"s":0.37},{"p":"K","g":"Ll","t":103,"s":0.29},{"p":"K","g":"Ll","t":137.6,"s":0.19},{"p":"K","g":"Ll","t":183,"s":0.19},
{"p":"K","g":"Hu","t":0,"s":1},{"p":"K","g":"Hu","t":20,"s":0.96},{"p":"K","g":"Hu","t":30,"s":0.9},{"p":"K","g":"Hu","t":50,"s":0.8},{"p":"K","g":"Hu","t":70,"s":0.73},{"p":"K","g":"Hu","t":101,"s":0.709},{"p":"K","g":"Hu","t":214,"s":0.709},
{"p":"K","g":"Hl","t":0,"s":1},{"p":"K","g":"Hl","t":20,"s":0.83},{"p":"K","g":"Hl","t":30,"s":0.74},{"p":"K","g":"Hl","t":50,"s":0.58},{"p":"K","g":"Hl","t":70,"s":0.46},{"p":"K","g":"Hl","t":101,"s":0.39},{"p":"K","g":"Hl","t":214,"s":0.39},
{"p":"K","g":"Lc","t":37,"s":0.655},{"p":"K","g":"Lc","t":40,"s":0.655},{"p":"K","g":"Lc","t":43,"s":0.655},{"p":"K","g":"Lc","t":46,"s":0.655},{"p":"K","g":"Lc","t":120,"s":0.43},{"p":"K","g":"Lc","t":130,"s":0.43},{"p":"K","g":"Lc","t":132,"s":0.43},{"p":"K","g":"Lc","t":150,"s":0.345},{"p":"K","g":"Lc","t":157,"s":0.345},{"p":"K","g":"Lc","t":175,"s":0.345},{"p":"K","g":"Lc","t":183,"s":0.345},
{"p":"K","g":"Hc","t":57,"s":0.645},{"p":"K","g":"Hc","t":60,"s":0.645},{"p":"K","g":"Hc","t":63,"s":0.645},{"p":"K","g":"Hc","t":66,"s":0.645},{"p":"K","g":"Hc","t":80,"s":0.575},{"p":"K","g":"Hc","t":90,"s":0.575},{"p":"K","g":"Hc","t":100,"s":0.575},{"p":"K","g":"Hc","t":110,"s":0.525},{"p":"K","g":"Hc","t":120,"s":0.525},{"p":"K","g":"Hc","t":130,"s":0.525},{"p":"K","g":"Hc","t":140,"s":0.525},{"p":"K","g":"Hc","t":148,"s":0.525},{"p":"K","g":"Hc","t":150,"s":0.525},{"p":"K","g":"Hc","t":160,"s":0.525},{"p":"K","g":"Hc","t":214,"s":0.525},

{"p":"L","g":"L","t":0,"s":1},{"p":"L","g":"L","t":5,"s":0.99},{"p":"L","g":"L","t":8,"s":0.97},{"p":"L","g":"L","t":12,"s":0.94},{"p":"L","g":"L","t":15,"s":0.92},{"p":"L","g":"L","t":20,"s":0.87},{"p":"L","g":"L","t":22,"s":0.83},{"p":"L","g":"L","t":28,"s":0.8},{"p":"L","g":"L","t":33,"s":0.76},{"p":"L","g":"L","t":38,"s":0.73},{"p":"L","g":"L","t":42,"s":0.71},{"p":"L","g":"L","t":50,"s":0.7},{"p":"L","g":"L","t":55,"s":0.68},{"p":"L","g":"L","t":70,"s":0.615},{"p":"L","g":"L","t":96,"s":0.522},{"p":"L","g":"L","t":214,"s":0.522},
{"p":"L","g":"H","t":0,"s":1},{"p":"L","g":"H","t":5,"s":0.97},{"p":"L","g":"H","t":10,"s":0.94},{"p":"L","g":"H","t":15,"s":0.9},{"p":"L","g":"H","t":18,"s":0.86},{"p":"L","g":"H","t":22,"s":0.8},{"p":"L","g":"H","t":25,"s":0.78},{"p":"L","g":"H","t":30,"s":0.72},{"p":"L","g":"H","t":35,"s":0.68},{"p":"L","g":"H","t":40,"s":0.65},{"p":"L","g":"H","t":45,"s":0.62},{"p":"L","g":"H","t":48,"s":0.61},{"p":"L","g":"H","t":69,"s":0.578},{"p":"L","g":"H","t":85,"s":0.54},{"p":"L","g":"H","t":102,"s":0.505},{"p":"L","g":"H","t":104,"s":0.445},{"p":"L","g":"H","t":137,"s":0.372},{"p":"L","g":"H","t":214,"s":0.372},
{"p":"L","g":"Lu","t":0,"s":1},{"p":"L","g":"Lu","t":20,"s":0.95},{"p":"L","g":"Lu","t":45,"s":0.78},{"p":"L","g":"Lu","t":60,"s":0.76},{"p":"L","g":"Lu","t":70,"s":0.75},{"p":"L","g":"Lu","t":96,"s":0.709},{"p":"L","g":"Lu","t":214,"s":0.709},
{"p":"L","g":"Ll","t":0,"s":1},{"p":"L","g":"Ll","t":20,"s":0.8},{"p":"L","g":"Ll","t":45,"s":0.62},{"p":"L","g":"Ll","t":60,"s":0.58},{"p":"L","g":"Ll","t":70,"s":0.52},{"p":"L","g":"Ll","t":85,"s":0.47},{"p":"L","g":"Ll","t":96,"s":0.38},{"p":"L","g":"Ll","t":214,"s":0.38},
{"p":"L","g":"Hu","t":0,"s":1},{"p":"L","g":"Hu","t":20,"s":0.9},{"p":"L","g":"Hu","t":50,"s":0.72},{"p":"L","g":"Hu","t":70,"s":0.7},{"p":"L","g":"Hu","t":85,"s":0.67},{"p":"L","g":"Hu","t":103,"s":0.65},{"p":"L","g":"Hu","t":137,"s":0.62},{"p":"L","g":"Hu","t":214,"s":0.62},
{"p":"L","g":"Hl","t":0,"s":1},{"p":"L","g":"Hl","t":20,"s":0.75},{"p":"L","g":"Hl","t":50,"s":0.52},{"p":"L","g":"Hl","t":70,"s":0.47},{"p":"L","g":"Hl","t":85,"s":0.43},{"p":"L","g":"Hl","t":103,"s":0.31},{"p":"L","g":"Hl","t":137,"s":0.22},{"p":"L","g":"Hl","t":214,"s":0.22},
{"p":"L","g":"Lc","t":45,"s":0.71},{"p":"L","g":"Lc","t":52,"s":0.7},{"p":"L","g":"Lc","t":57,"s":0.68},{"p":"L","g":"Lc","t":60,"s":0.68},{"p":"L","g":"Lc","t":63,"s":0.68},{"p":"L","g":"Lc","t":66,"s":0.68},{"p":"L","g":"Lc","t":73,"s":0.615},{"p":"L","g":"Lc","t":80,"s":0.615},{"p":"L","g":"Lc","t":85,"s":0.615},{"p":"L","g":"Lc","t":115,"s":0.522},{"p":"L","g":"Lc","t":120,"s":0.522},{"p":"L","g":"Lc","t":133,"s":0.522},{"p":"L","g":"Lc","t":150,"s":0.522},{"p":"L","g":"Lc","t":158,"s":0.522},{"p":"L","g":"Lc","t":163,"s":0.522},{"p":"L","g":"Lc","t":180,"s":0.522},{"p":"L","g":"Lc","t":214,"s":0.522},
{"p":"L","g":"Hc","t":46,"s":0.62},{"p":"L","g":"Hc","t":50,"s":0.61},{"p":"L","g":"Hc","t":75,"s":0.578},{"p":"L","g":"Hc","t":80,"s":0.578},{"p":"L","g":"Hc","t":90,"s":0.54},{"p":"L","g":"Hc","t":95,"s":0.54},{"p":"L","g":"Hc","t":120,"s":0.445},{"p":"L","g":"Hc","t":133,"s":0.445},{"p":"L","g":"Hc","t":140,"s":0.372},{"p":"L","g":"Hc","t":148,"s":0.372},{"p":"L","g":"Hc","t":176,"s":0.372},{"p":"L","g":"Hc","t":214,"s":0.372},

{"p":"M","g":"L","t":0,"s":1},{"p":"M","g":"L","t":5,"s":0.97},{"p":"M","g":"L","t":10,"s":0.93},{"p":"M","g":"L","t":15,"s":0.89},{"p":"M","g":"L","t":20,"s":0.85},{"p":"M","g":"L","t":25,"s":0.81},{"p":"M","g":"L","t":30,"s":0.77},{"p":"M","g":"L","t":35,"s":0.74},{"p":"M","g":"L","t":40,"s":0.71},{"p":"M","g":"L","t":45,"s":0.68},{"p":"M","g":"L","t":50,"s":0.66},{"p":"M","g":"L","t":60,"s":0.65},{"p":"M","g":"L","t":70,"s":0.6},{"p":"M","g":"L","t":85,"s":0.55},{"p":"M","g":"L","t":97,"s":0.45},{"p":"M","g":"L","t":104,"s":0.4},{"p":"M","g":"L","t":214,"s":0.4},
{"p":"M","g":"H","t":0,"s":1},{"p":"M","g":"H","t":5,"s":0.97},{"p":"M","g":"H","t":10,"s":0.93},{"p":"M","g":"H","t":15,"s":0.88},{"p":"M","g":"H","t":20,"s":0.84},{"p":"M","g":"H","t":25,"s":0.8},{"p":"M","g":"H","t":30,"s":0.77},{"p":"M","g":"H","t":35,"s":0.74},{"p":"M","g":"H","t":40,"s":0.7},{"p":"M","g":"H","t":45,"s":0.67},{"p":"M","g":"H","t":50,"s":0.65},{"p":"M","g":"H","t":70,"s":0.6},{"p":"M","g":"H","t":97,"s":0.54},{"p":"M","g":"H","t":214,"s":0.54},
{"p":"M","g":"Lu","t":0,"s":1},{"p":"M","g":"Lu","t":20,"s":0.92},{"p":"M","g":"Lu","t":40,"s":0.8},{"p":"M","g":"Lu","t":55,"s":0.75},{"p":"M","g":"Lu","t":70,"s":0.71},{"p":"M","g":"Lu","t":85,"s":0.67},{"p":"M","g":"Lu","t":97,"s":0.6},{"p":"M","g":"Lu","t":104,"s":0.56},{"p":"M","g":"Lu","t":214,"s":0.56},
{"p":"M","g":"Ll","t":0,"s":1},{"p":"M","g":"Ll","t":20,"s":0.77},{"p":"M","g":"Ll","t":40,"s":0.62},{"p":"M","g":"Ll","t":55,"s":0.56},{"p":"M","g":"Ll","t":70,"s":0.5},{"p":"M","g":"Ll","t":85,"s":0.44},{"p":"M","g":"Ll","t":97,"s":0.34},{"p":"M","g":"Ll","t":104,"s":0.25},{"p":"M","g":"Ll","t":214,"s":0.25},
{"p":"M","g":"Hu","t":0,"s":1},{"p":"M","g":"Hu","t":20,"s":0.92},{"p":"M","g":"Hu","t":40,"s":0.79},{"p":"M","g":"Hu","t":55,"s":0.74},{"p":"M","g":"Hu","t":70,"s":0.71},{"p":"M","g":"Hu","t":97,"s":0.68},{"p":"M","g":"Hu","t":214,"s":0.68},
{"p":"M","g":"Hl","t":0,"s":1},{"p":"M","g":"Hl","t":20,"s":0.76},{"p":"M","g":"Hl","t":40,"s":0.6},{"p":"M","g":"Hl","t":55,"s":0.55},{"p":"M","g":"Hl","t":70,"s":0.5},{"p":"M","g":"Hl","t":97,"s":0.4},{"p":"M","g":"Hl","t":214,"s":0.4},
{"p":"M","g":"Lc","t":52,"s":0.66},{"p":"M","g":"Lc","t":56,"s":0.66},{"p":"M","g":"Lc","t":62,"s":0.65},{"p":"M","g":"Lc","t":66,"s":0.65},{"p":"M","g":"Lc","t":75,"s":0.6},{"p":"M","g":"Lc","t":80,"s":0.6},{"p":"M","g":"Lc","t":120,"s":0.4},{"p":"M","g":"Lc","t":133,"s":0.4},{"p":"M","g":"Lc","t":150,"s":0.4},{"p":"M","g":"Lc","t":158,"s":0.4},{"p":"M","g":"Lc","t":180,"s":0.4},{"p":"M","g":"Lc","t":214,"s":0.4},
{"p":"M","g":"Hc","t":55,"s":0.65},{"p":"M","g":"Hc","t":60,"s":0.65},{"p":"M","g":"Hc","t":65,"s":0.65},{"p":"M","g":"Hc","t":75,"s":0.6},{"p":"M","g":"Hc","t":120,"s":0.54},{"p":"M","g":"Hc","t":133,"s":0.54},{"p":"M","g":"Hc","t":148,"s":0.54},{"p":"M","g":"Hc","t":150,"s":0.54},{"p":"M","g":"Hc","t":160,"s":0.54},{"p":"M","g":"Hc","t":214,"s":0.54},

{"p":"N","g":"L","t":0,"s":1},{"p":"N","g":"L","t":5,"s":0.96},{"p":"N","g":"L","t":10,"s":0.92},{"p":"N","g":"L","t":15,"s":0.87},{"p":"N","g":"L","t":20,"s":0.8},{"p":"N","g":"L","t":25,"s":0.74},{"p":"N","g":"L","t":30,"s":0.68},{"p":"N","g":"L","t":35,"s":0.63},{"p":"N","g":"L","t":40,"s":0.6},{"p":"N","g":"L","t":45,"s":0.58},{"p":"N","g":"L","t":70,"s":0.55},{"p":"N","g":"L","t":85,"s":0.5},{"p":"N","g":"L","t":97,"s":0.47},{"p":"N","g":"L","t":214,"s":0.47},
{"p":"N","g":"H","t":0,"s":1},{"p":"N","g":"H","t":5,"s":0.98},{"p":"N","g":"H","t":10,"s":0.96},{"p":"N","g":"H","t":15,"s":0.93},{"p":"N","g":"H","t":20,"s":0.9},{"p":"N","g":"H","t":25,"s":0.87},{"p":"N","g":"H","t":30,"s":0.84},{"p":"N","g":"H","t":35,"s":0.81},{"p":"N","g":"H","t":40,"s":0.79},{"p":"N","g":"H","t":50,"s":0.75},{"p":"N","g":"H","t":58,"s":0.73},{"p":"N","g":"H","t":70,"s":0.65},{"p":"N","g":"H","t":96,"s":0.6},{"p":"N","g":"H","t":103,"s":0.52},{"p":"N","g":"H","t":137,"s":0.46},{"p":"N","g":"H","t":214,"s":0.46},
{"p":"N","g":"Lu","t":0,"s":1},{"p":"N","g":"Lu","t":20,"s":0.88},{"p":"N","g":"Lu","t":40,"s":0.7},{"p":"N","g":"Lu","t":45,"s":0.68},{"p":"N","g":"Lu","t":70,"s":0.66},{"p":"N","g":"Lu","t":85,"s":0.62},{"p":"N","g":"Lu","t":97,"s":0.6},{"p":"N","g":"Lu","t":214,"s":0.6},
{"p":"N","g":"Ll","t":0,"s":1},{"p":"N","g":"Ll","t":20,"s":0.72},{"p":"N","g":"Ll","t":40,"s":0.5},{"p":"N","g":"Ll","t":45,"s":0.48},{"p":"N","g":"Ll","t":70,"s":0.45},{"p":"N","g":"Ll","t":85,"s":0.39},{"p":"N","g":"Ll","t":97,"s":0.34},{"p":"N","g":"Ll","t":214,"s":0.34},
{"p":"N","g":"Hu","t":0,"s":1},{"p":"N","g":"Hu","t":20,"s":0.95},{"p":"N","g":"Hu","t":40,"s":0.86},{"p":"N","g":"Hu","t":58,"s":0.82},{"p":"N","g":"Hu","t":70,"s":0.76},{"p":"N","g":"Hu","t":96,"s":0.72},{"p":"N","g":"Hu","t":103,"s":0.66},{"p":"N","g":"Hu","t":137,"s":0.62},{"p":"N","g":"Hu","t":214,"s":0.62},
{"p":"N","g":"Hl","t":0,"s":1},{"p":"N","g":"Hl","t":20,"s":0.84},{"p":"N","g":"Hl","t":40,"s":0.71},{"p":"N","g":"Hl","t":58,"s":0.64},{"p":"N","g":"Hl","t":70,"s":0.55},{"p":"N","g":"Hl","t":96,"s":0.48},{"p":"N","g":"Hl","t":103,"s":0.39},{"p":"N","g":"Hl","t":137,"s":0.3},{"p":"N","g":"Hl","t":214,"s":0.3},
{"p":"N","g":"Lc","t":48,"s":0.58},{"p":"N","g":"Lc","t":52,"s":0.58},{"p":"N","g":"Lc","t":56,"s":0.58},{"p":"N","g":"Lc","t":60,"s":0.58},{"p":"N","g":"Lc","t":65,"s":0.58},{"p":"N","g":"Lc","t":75,"s":0.55},{"p":"N","g":"Lc","t":110,"s":0.47},{"p":"N","g":"Lc","t":120,"s":0.47},{"p":"N","g":"Lc","t":133,"s":0.47},{"p":"N","g":"Lc","t":150,"s":0.47},{"p":"N","g":"Lc","t":158,"s":0.47},{"p":"N","g":"Lc","t":180,"s":0.47},{"p":"N","g":"Lc","t":214,"s":0.47},
{"p":"N","g":"Hc","t":45,"s":0.79},{"p":"N","g":"Hc","t":52,"s":0.75},{"p":"N","g":"Hc","t":56,"s":0.75},{"p":"N","g":"Hc","t":75,"s":0.65},{"p":"N","g":"Hc","t":80,"s":0.65},{"p":"N","g":"Hc","t":115,"s":0.52},{"p":"N","g":"Hc","t":120,"s":0.52},{"p":"N","g":"Hc","t":131,"s":0.52},{"p":"N","g":"Hc","t":148,"s":0.46},{"p":"N","g":"Hc","t":150,"s":0.46},{"p":"N","g":"Hc","t":176,"s":0.46},{"p":"N","g":"Hc","t":214,"s":0.46},

{"p":"O","g":"L","t":0,"s":1},{"p":"O","g":"L","t":5,"s":0.96},{"p":"O","g":"L","t":10,"s":0.92},{"p":"O","g":"L","t":15,"s":0.88},{"p":"O","g":"L","t":20,"s":0.83},{"p":"O","g":"L","t":25,"s":0.78},{"p":"O","g":"L","t":30,"s":0.73},{"p":"O","g":"L","t":35,"s":0.68},{"p":"O","g":"L","t":40,"s":0.64},{"p":"O","g":"L","t":45,"s":0.61},{"p":"O","g":"L","t":70,"s":0.6},{"p":"O","g":"L","t":85,"s":0.58},{"p":"O","g":"L","t":97,"s":0.57},{"p":"O","g":"L","t":104,"s":0.52},{"p":"O","g":"L","t":214,"s":0.52},
{"p":"O","g":"H","t":0,"s":1},{"p":"O","g":"H","t":5,"s":0.98},{"p":"O","g":"H","t":10,"s":0.96},{"p":"O","g":"H","t":15,"s":0.92},{"p":"O","g":"H","t":20,"s":0.88},{"p":"O","g":"H","t":25,"s":0.83},{"p":"O","g":"H","t":30,"s":0.8},{"p":"O","g":"H","t":35,"s":0.76},{"p":"O","g":"H","t":40,"s":0.72},{"p":"O","g":"H","t":45,"s":0.7},{"p":"O","g":"H","t":55,"s":0.67},{"p":"O","g":"H","t":60,"s":0.63},{"p":"O","g":"H","t":70,"s":0.6},{"p":"O","g":"H","t":97,"s":0.58},{"p":"O","g":"H","t":104,"s":0.46},{"p":"O","g":"H","t":137,"s":0.38},{"p":"O","g":"H","t":178,"s":0.38},
{"p":"O","g":"Lu","t":0,"s":1},{"p":"O","g":"Lu","t":20,"s":0.9},{"p":"O","g":"Lu","t":40,"s":0.73},{"p":"O","g":"Lu","t":70,"s":0.7},{"p":"O","g":"Lu","t":97,"s":0.68},{"p":"O","g":"Lu","t":104,"s":0.64},{"p":"O","g":"Lu","t":214,"s":0.64},
{"p":"O","g":"Ll","t":0,"s":1},{"p":"O","g":"Ll","t":20,"s":0.76},{"p":"O","g":"Ll","t":40,"s":0.55},{"p":"O","g":"Ll","t":70,"s":0.5},{"p":"O","g":"Ll","t":97,"s":0.47},{"p":"O","g":"Ll","t":104,"s":0.4},{"p":"O","g":"Ll","t":214,"s":0.4},
{"p":"O","g":"Hu","t":0,"s":1},{"p":"O","g":"Hu","t":20,"s":0.94},{"p":"O","g":"Hu","t":40,"s":0.81},{"p":"O","g":"Hu","t":60,"s":0.74},{"p":"O","g":"Hu","t":70,"s":0.72},{"p":"O","g":"Hu","t":97,"s":0.7},{"p":"O","g":"Hu","t":104,"s":0.6},{"p":"O","g":"Hu","t":137,"s":0.54},{"p":"O","g":"Hu","t":178,"s":0.54},
{"p":"O","g":"Hl","t":0,"s":1},{"p":"O","g":"Hl","t":20,"s":0.82},{"p":"O","g":"Hl","t":40,"s":0.63},{"p":"O","g":"Hl","t":60,"s":0.53},{"p":"O","g":"Hl","t":70,"s":0.49},{"p":"O","g":"Hl","t":97,"s":0.45},{"p":"O","g":"Hl","t":104,"s":0.33},{"p":"O","g":"Hl","t":137,"s":0.22},{"p":"O","g":"Hl","t":178,"s":0.22},
{"p":"O","g":"Lc","t":48,"s":0.61},{"p":"O","g":"Lc","t":52,"s":0.61},{"p":"O","g":"Lc","t":56,"s":0.61},{"p":"O","g":"Lc","t":60,"s":0.61},{"p":"O","g":"Lc","t":65,"s":0.61},{"p":"O","g":"Lc","t":75,"s":0.6},{"p":"O","g":"Lc","t":115,"s":0.52},{"p":"O","g":"Lc","t":121,"s":0.52},{"p":"O","g":"Lc","t":133,"s":0.52},{"p":"O","g":"Lc","t":150,"s":0.52},{"p":"O","g":"Lc","t":158,"s":0.52},{"p":"O","g":"Lc","t":180,"s":0.52},{"p":"O","g":"Lc","t":214,"s":0.52},
{"p":"O","g":"Hc","t":48,"s":0.7},{"p":"O","g":"Hc","t":52,"s":0.7},{"p":"O","g":"Hc","t":62,"s":0.63},{"p":"O","g":"Hc","t":75,"s":0.6},{"p":"O","g":"Hc","t":85,"s":0.6},{"p":"O","g":"Hc","t":115,"s":0.46},{"p":"O","g":"Hc","t":130,"s":0.46},{"p":"O","g":"Hc","t":148,"s":0.38},{"p":"O","g":"Hc","t":160,"s":0.38},{"p":"O","g":"Hc","t":178,"s":0.38}
]},
"columns":3,
"spacing":{"row":12,"column":16},
"facet":{"field":"p","type":"nominal","title":null,"header":{"labelExpr":"'Overall Survival'","labelFontSize":12,"labelFont":"Liberation Sans","labelColor":"#000","labelPadding":-9}},
"resolve":{"axis":{"x":"independent","y":"independent"}},
"spec":{
"width":198,"height":189,
"encoding":{
"x":{"field":"t","type":"quantitative","scale":{"domain":[0,222.6],"nice":false,"zero":false},"axis":{"title":"Months","values":[0,50,100,150,200],"labelPadding":4,"titlePadding":3,"labelFlush":false,"labelOverlap":false}},
"y":{"field":"s","type":"quantitative","scale":{"domain":[-0.04,1.04],"nice":false,"zero":false},"axis":{"title":"Percent survival","values":[0,0.2,0.4,0.6,0.8,1],"format":".1f","labelAngle":-90,"labelAlign":"center","labelBaseline":"bottom","labelPadding":6,"titlePadding":4,"labelOverlap":false}},
"color":{"field":"g","type":"nominal","scale":{"domain":["L","H","Lu","Ll","Hu","Hl","Lc","Hc","TL","TH"],"range":["#0000ff","#ff0000","#0000ff","#0000ff","#ff0000","#ff0000","#0000ff","#ff0000","#0000ff","#ff0000"]},"legend":null}
},
"layer":[
{"transform":[{"filter":"indexof(['Lu','Ll','Hu','Hl'],datum.g)>=0"}],"mark":{"type":"line","interpolate":"step-after","strokeDash":[1,1.5],"strokeWidth":0.8,"opacity":0.6}},
{"transform":[{"filter":"datum.g=='L'||datum.g=='H'"}],"mark":{"type":"line","interpolate":"step-after","strokeWidth":1.3,"opacity":0.9}},
{"transform":[{"filter":"datum.g=='Lc'||datum.g=='Hc'"}],"mark":{"type":"point","shape":"M0,-1V1M-0.6,0H0.6","size":30,"strokeWidth":1,"filled":false,"opacity":0.8}},
{"transform":[{"filter":"datum.g=='TL'"}],"layer":[
{"mark":{"type":"rule","strokeWidth":1.3},"encoding":{"x":{"value":{"expr":"scale('x', 123)"}},"x2":{"value":{"expr":"scale('x', 139)"}},"y":{"value":{"expr":"scale('y', 0.994)"}}}},
{"mark":{"type":"text","align":"right","baseline":"middle","fontSize":8.3},"encoding":{"x":{"value":{"expr":"scale('x', 217.5)"}},"y":{"value":{"expr":"scale('y', 0.994)"}},"text":{"field":"lab"},"color":{"value":"#000"}}}]},
{"transform":[{"filter":"datum.g=='TH'"}],"layer":[
{"mark":{"type":"rule","strokeWidth":1.3},"encoding":{"x":{"value":{"expr":"scale('x', 123)"}},"x2":{"value":{"expr":"scale('x', 139)"}},"y":{"value":{"expr":"scale('y', 0.949)"}}}},
{"mark":{"type":"text","align":"right","baseline":"middle","fontSize":8.3},"encoding":{"x":{"value":{"expr":"scale('x', 217.5)"}},"y":{"value":{"expr":"scale('y', 0.949)"}},"text":{"field":"lab"},"color":{"value":"#000"}}}]},
{"transform":[{"filter":"datum.g=='S'"}],"layer":[
{"mark":{"type":"text","align":"right","baseline":"middle","fontSize":8.3,"lineHeight":9.7},"encoding":{"x":{"value":{"expr":"scale('x', 217.5)"}},"y":{"value":{"expr":"scale('y', 0.893)"}},"text":{"field":"lab"},"color":{"value":"#000"}}},
{"mark":{"type":"text","align":"center","baseline":"middle","fontSize":15,"font":"Liberation Serif"},"encoding":{"x":{"value":{"expr":"scale('x', -33)"}},"y":{"value":{"expr":"scale('y', 1.068)"}},"text":{"field":"p"},"color":{"value":"#000"}}}]}
]},
"config":{"font":"Liberation Sans","view":{"stroke":"#808080","strokeWidth":1},
"axis":{"grid":false,"domain":false,"tickColor":"#333","tickSize":5,"labelColor":"#000","titleColor":"#000","titleFontWeight":"normal","labelFontSize":9,"titleFontSize":11,"labelFont":"Liberation Sans","titleFont":"Liberation Sans","labelOverlap":false},
"text":{"font":"Liberation Sans"}}
}
